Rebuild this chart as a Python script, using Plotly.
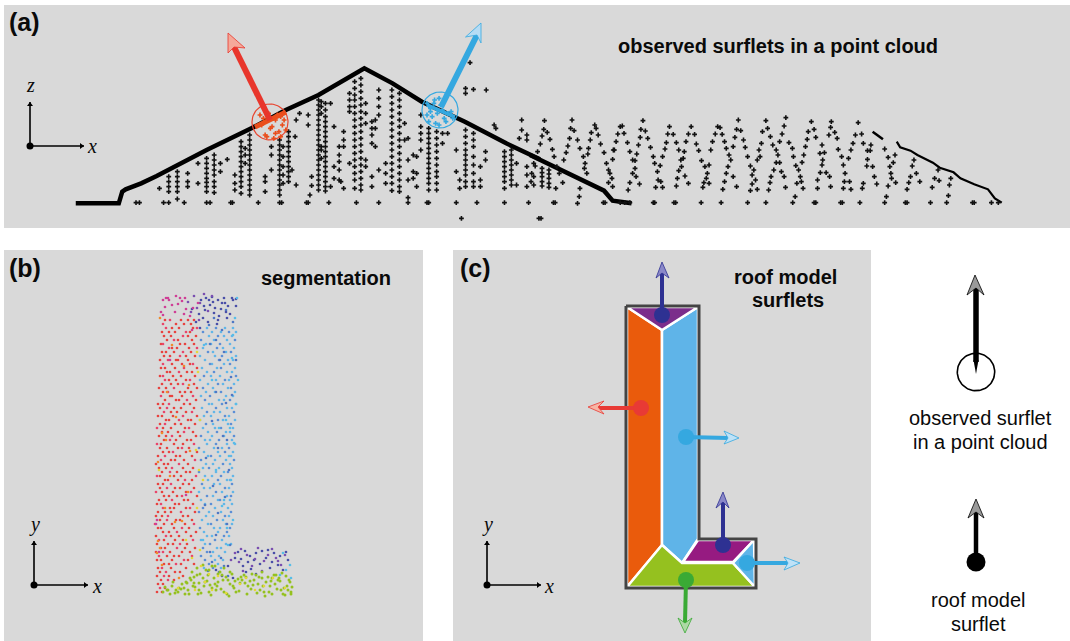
import numpy as np
import plotly.graph_objects as go

ROOF_LEFT_X = [220,345,355,365,410,455,600,730,830,925,1058,1140,1225,1350,1470,1568]
ROOF_LEFT_Y = [610,610,575,568,550,528,450,385,330,285,205,250,305,365,430,478]
ROOF_MID_X = [0,60,215,240,295]
ROOF_MID_Y = [465,495,572,602,610]
ROOF_R1_X = [995,1010,1025]
ROOF_R1_Y = [395,407,418]
ROOF_R2_X = [1065,1075,1105,1125,1170,1190,1230,1250,1290,1330,1350,1370]
ROOF_R2_Y = [425,442,452,465,488,503,517,535,553,568,595,608]

COLS_LEFT = [
(463,[565]),(490,[530,545,560,575]),(515,[515,530,545,560,575,597]),(545,[520,545,560]),(575,[490,550]),
(600,[475,490,505,520,535,547,560,575]),(622,[465,480,495,510,525,545,560,578]),(640,[490,515]),(660,[478]),
(682,[525,550,570]),(700,[425,440,455,470,485,500,515,530,545,560,580]),(712,[445,465,490]),
(725,[405,420,435,450,465,480,495,510,525,540,555,570,585]),(770,[530,545,575]),(788,[440,465,510]),
(812,[420,435,450,465,480,495,510,525,540,555,570,585]),(822,[440,470,500,525,550]),
(838,[395,410,425,440,455,470,485,500,515,530,545]),(848,[510]),(860,[360,555]),(857,[410]),(870,[340]),
(895,[375,345]),(900,[585]),(905,[530,557]),
(925,[300,315,330,345,360,375,390,405,420,435,450,465,480,495,510,525,540,555,570]),(933,[305,320,340,440,450,475]),
(945,[310,330,350,365,380,395,410,425,440,455,470,485,500,515,530,545,560,573]),(960,[310,560]),
(970,[380,500,535]),(985,[440,465,485,510,540]),(998,[395,420,440,565]),(990,[545]),
(1015,[280,300,320,335,490]),(1030,[245,265,285,300,320,340,360,380,400,420,440,460,480,500,520,540,565]),
(1048,[235,255,275,295,315,335,355,375,395,415,435,455,475,495,515,535,555,570]),(1062,[310,340,370,480,500]),
(1080,[365,385,405,430,530,560]),(1090,[360,385,440]),(1100,[270,295,320,345,510]),(1120,[490,520,550]),
(1138,[270,290,310,330,350,370,390,410,430,450,470,490,510,530,550,572]),
(1160,[280,300,320,340,360,380,400,420,440,460,480,500,520,540,560,575]),(1175,[370,420]),(1185,[415,480,540,593]),
(1200,[465,515,535]),(1210,[470,520,560]),(1222,[345,380,400,420,450]),
(1245,[385,400,415,430,445,460,475,490,505,520,535,550,570]),(1268,[395,415,435,455,475,495,515,530,550,570]),
(1285,[400,430]),(1300,[400]),(1325,[450,515]),(1335,[540,565]),(1340,[655]),
(1352,[390,410,430,450,465,480,495,510,525,545,560,265,280]),(1375,[400,420,440,470,495,520,545,560,268]),
(1365,[188]),(1412,[270]),(1395,[500,540,560]),(1410,[455,480]),(1435,[375]),(1440,[385]),
(1465,[455,470,485,500,515,530,545,565]),(1485,[450,465,480,495,510,525,540,555]),(1500,[490,555]),(1508,[415]),
(1515,[360,390]),(1530,[405,420,500,525,560]),(1550,[490,530,555]),(1565,[655]),
]
FLOOR_LEFT = [395,405,475,490,535,600,610,670,675,750,812,818,890,895,955,1035,1100,1185,1240,1245,1325,1385,1465,1535]
FLOOR_RIGHT = [68,73,213,218,262,275,290,358,362,418,423,497,555,632,685,763,825,830,902,907,958,1030,1090,1095,1163,1210,1285,1290,1340,1360]

RIGHT_X = [42,40,50,35,30,58,65,22,70,15,5,3,35,35,35,35,35,55,55,55,55,55,78,85,95,75,98,
122,118,128,115,138,110,105,145,155,168,160,158,165,
188,192,198,178,175,205,170,215,242,240,222,228,232,238,228,240,145,143,138,
262,268,255,273,250,283,245,290,298,305,305,298,290,285,318,308,
328,322,335,320,342,315,350,310,358,362,378,370,372,380,365,385,385,392,396,400,416,405,
425,432,445,438,440,432,450,428,460,425,
468,460,478,453,483,448,490,498,520,508,515,512,505,520,502,
545,552,538,558,530,565,525,570,578,583,575,570,590,565,560,600,
605,600,612,595,620,590,625,632,640,650,645,655,645,640,660,
685,690,675,698,672,705,665,715,668,660,720,715,725,708,730,700,738,697,742,693,
743,738,732,752,725,762,765,772,790,795,780,785,775,788,793,770,
817,825,808,830,805,800,848,842,855,850,848,843,860,835,870,835,873,
875,873,885,868,892,895,905,910,915,913,928,910,932,
953,945,963,938,968,932,990,925,980,988,980,978,995,968,965,1000,1007,
1030,1040,1060,1055,1045,1048,1050,1062,1040,1035,
1115,1110,1122,1105,1100,1095,1132,
1185,1175,1188,1168,1222,1218,1215,32]
RIGHT_Y = [362,388,397,408,432,418,448,455,470,498,520,545,505,518,530,545,558,510,522,535,550,562,500,520,548,565,480,
360,385,392,415,420,438,458,445,470,462,490,505,520,
375,385,405,398,420,432,445,458,450,478,490,510,520,535,548,560,565,590,610,
380,378,402,400,425,428,450,455,480,482,505,520,548,570,552,530,
362,388,393,412,415,435,442,462,470,490,497,515,540,545,562,562,470,447,428,402,403,380,
428,450,475,480,500,512,528,535,550,558,
380,402,403,425,432,455,452,482,495,500,520,535,548,550,562,
380,383,402,403,425,425,450,445,465,480,500,520,530,545,568,560,
360,388,392,412,420,440,442,470,498,510,525,540,552,572,568,
362,385,395,410,430,435,450,450,470,480,465,488,488,510,515,530,530,548,562,570,
353,378,402,428,425,445,470,497,487,465,510,530,550,545,565,590,
365,388,395,412,418,440,435,460,458,480,495,518,518,540,530,565,560,
365,382,397,405,415,448,470,495,520,545,545,565,568,
368,405,402,430,430,450,435,475,452,452,478,498,500,550,565,530,552,
447,472,465,488,500,520,535,548,558,590,
480,498,520,530,548,568,545,
510,535,542,562,535,555,587,655]

RED_IN_X = [755,765,780,790,800,810,820,825,770,785,800,815,760,775,805,795,830,815]
RED_IN_Y = [345,355,340,380,400,395,375,360,405,385,360,410,375,410,345,415,390,350]
BLUE_IN_X = [1240,1250,1262,1275,1240,1255,1270,1285,1300,1245,1265,1290,1310,1250,1280,1295,1315,1260,1275]
BLUE_IN_Y = [310,325,300,295,345,350,340,330,340,365,370,355,335,335,315,365,355,310,375]

# ---------- panel (b): segmentation, pixel rows of the picture ----------
RED_ROWS = {
320:[165,170,181,188,194],324:[163,176,184,191],328:[166,172,179,193,197],332:[162,169,175,186,190],
336:[164,171,183,188,196],340:[167,174,178,192],344:[161,163,180,185,194],348:[169,172,177,189,197],
352:[162,166,174,183,191],356:[164,170,180,186,195],360:[160,168,176,178,188],364:[163,172,182,190,193],
368:[161,165,175,184,197],372:[167,170,179,187,192],376:[160,163,173,181,195],380:[165,169,176,186,190],
384:[162,171,178,183,194],388:[159,166,174,188,197],392:[163,168,180,185,191],396:[161,170,172,182,193],
400:[165,176,179,187,196],404:[158,163,169,184,190],408:[160,167,174,181,194],412:[164,171,177,186,192],
416:[158,162,173,183,197],420:[166,169,179,188,191],424:[160,165,175,181,195],428:[157,163,171,185,189],
432:[162,168,178,184,193],436:[159,166,172,180,196],440:[164,170,176,187,191],444:[157,161,174,183,194],
448:[160,167,178,182,189],452:[163,169,173,186,197],456:[158,165,176,180,192],460:[161,171,175,184,195],
464:[156,164,168,179,188],468:[159,166,172,183,193],472:[162,170,177,186,190],476:[157,160,174,181,196],
480:[165,168,178,185,192],484:[158,163,171,183,189],488:[160,167,175,180,194],492:[156,162,173,186,191],
496:[164,169,177,182,197],500:[159,166,172,184,188],504:[157,161,175,179,193],508:[163,170,174,186,190],
512:[158,165,171,181,195],516:[156,162,168,183,188],520:[160,167,176,180,192],524:[155,164,172,185,194],
528:[158,161,174,182,189],532:[163,169,177,186,196],536:[156,166,171,179,191],540:[159,164,175,183,193],
544:[157,168,173,180,187],548:[161,165,177,185,195],552:[156,163,170,182,190],556:[159,167,174,179,192],
560:[157,161,172,184,188],564:[164,169,176,181,194],568:[158,162,171,186],572:[160,166,175,180],
576:[157,164,169,183],580:[161,168,174],584:[158,163],588:[160,165],592:[157,162],
}
BLUE_ROWS = {
328:[207,216,225,233],332:[203,212,221,229,236],336:[209,218,224,232],340:[201,214,227,235],344:[206,211,220,230],
348:[203,217,223,234],352:[208,213,226,231],356:[200,215,222,236],360:[205,219,228,233],364:[210,212,224,230],
368:[202,217,221,235],372:[207,214,227,232],376:[204,211,220,236],380:[200,216,225,229],384:[208,218,223,234],
388:[203,213,228,231],392:[206,215,221,235],396:[201,210,226,233],400:[205,219,224,230],404:[209,212,222,236],
408:[202,216,227,232],412:[207,214,220,234],416:[204,211,225,229],420:[200,218,223,235],424:[206,213,228,231],
428:[203,215,221,233],432:[208,217,226,230],436:[201,212,224,234],440:[205,210,219,232],444:[207,216,227,235],
448:[199,214,222,229],452:[204,218,225,233],456:[208,211,220,231],460:[201,215,226,234],464:[206,213,223,230],
468:[203,209,219,232],472:[199,216,224,228],476:[205,212,221,233],480:[208,218,227,230],484:[202,214,220,232],
488:[204,210,225,229],492:[199,216,222,233],496:[207,213,227,231],500:[201,218,220,230],504:[205,211,224,232],
508:[203,215,228],512:[199,209,221,231],516:[206,213,225,229],520:[202,217,223],524:[208,211,226,232],
528:[200,214,220,230],532:[204,218,227],536:[207,212,224,229],540:[201,215,222],544:[205,210,226,231],
548:[203,217,221],552:[207,213,225],556:[201,211,219],560:[205,215,223],564:[209,218],568:[204,213,221],
}
ORANGE_X = [160,172,184,167,176,162,190,158,170,188,165,182,158,160,157,175,166,189,162,179]
ORANGE_Y = [318,345,366,392,417,433,451,462,476,492,508,521,541,548,553,522,440,385,565,578]
PINK_X = [163,165,168,172,175,182,186,190,198,163,166,176,185,157,156,159,192,170,186,169,178,184,193,161,180]
PINK_Y = [300,307,298,305,312,301,309,316,303,315,298,296,298,520,524,552,330,360,495,300,304,314,308,312,298]
YELLOW_B_X = [197,198,200,196,199,203,159,186,192,197,200,201,209,205,218,240,255,273,285,226,195,178,212,246,264]
YELLOW_B_Y = [352,372,420,450,470,480,470,540,558,508,550,566,574,582,576,584,590,578,588,593,590,588,590,578,586]
STEEL_X = [210,220,231,216,226,212,223,206,218,229,213,225,218,227,216,230,210,221,208,224,219,212,228,
222,214,226,233,209,216,224,236,232,227,205]
STEEL_Y = [344,360,377,392,403,421,436,458,448,470,486,497,513,524,535,545,552,558,571,566,572,562,576,
330,318,310,322,325,340,352,360,395,440,505]
NAVY_X = [201,206,212,218,224,204,210,215,222,228,233,214,219,226,203,208,217,236,230,200,196,192,
216,222,228,233,238,245,250,256,262,268,274,280,286,241,248,254,260,266,272,278,288,
235,243,251,246,256,270,283,199,209,221,232,205,213,227,218,236,225]
NAVY_Y = [300,298,297,300,298,306,305,308,303,306,300,313,316,312,318,322,324,306,314,328,322,309,
570,576,566,578,552,551,556,553,551,550,553,556,552,559,562,560,564,558,562,565,560,
558,566,569,572,574,568,570,314,300,309,298,310,302,318,320,299,303]
PURPLE_X = [194,197,200,204,208,212,239,247,258,264,276,252,268,281,243,262,231,235,188,191,199,241,255,272,278,285]
PURPLE_Y = [296,308,303,294,311,296,562,555,548,561,558,566,555,565,571,571,560,553,302,312,320,549,559,549,561,555]
SKY_X = [237,235,233,232,238,236,230,229,231,222,227,234,204,212,226,216,224,233,228,219,203,290,286,280,291,283]
SKY_Y = [298,318,335,358,380,404,428,456,480,506,528,443,345,380,420,470,500,520,545,428,540,565,570,575,578,553]
GREEN_X = [167,172,178,184,189,194,199,204,209,215,221,227,233,239,245,251,257,263,269,275,281,287,291,
170,176,182,188,193,198,205,212,218,224,230,236,242,248,254,260,266,272,278,284,290,
163,173,179,185,191,197,203,208,214,220,226,232,238,244,250,256,262,268,274,280,286,
192,197,203,209,215,190,200,206,212,218,224,230,252,262,272,282,288,
165,175,181,187,195,201,207,211,217,223,229,235,241,247,253,259,265,271,277,283,289,
168,186,194,199,210,216,222,228,234,240,246,258,264,270,276,292,291,285,279]
GREEN_Y = [590,586,592,588,594,583,590,586,592,584,589,594,586,591,583,589,593,586,592,584,590,586,592,
594,590,584,590,586,594,582,588,582,592,584,592,580,586,580,590,582,594,580,588,582,
592,582,588,594,580,575,578,575,578,572,577,574,579,575,581,575,578,577,575,581,576,
572,568,565,570,566,578,574,570,566,574,568,572,574,572,578,573,590,
587,593,589,583,587,593,581,595,586,580,596,581,577,594,585,577,596,581,589,594,580,
590,582,577,583,585,590,575,580,588,583,577,584,592,586,575,587,594,595,578]

# ---------- panel (c): roof model polygons, pixel positions ----------
ORANGE_POLY = ([627,662,662,627],[307,330,545,587])
BLUE_POLY = ([662,698,698,682,662],[330,307,539,563,545])
PURPLE_TOP = ([627,698,662],[307,307,330])
GREEN_POLY = ([662,682,733,755,627],[545,563,563,587,587])
PURPLE_FOOT = ([698,754,733,683],[540,540,562,562])
BLUE_SMALL = ([754,755,733],[540,587,563])
OUTLINE = ([626,699,699,756,756,626,626],[306,306,539,539,588,588,306])

# ---------- arrows: tail, shaft end, head polygon (tip, barb, notch, barb) ----------
ARROWS = [
 dict(shaft=([270,234],[120,47]),head=([228,228,234,245],[33,53,47,48]),c="#e8362c",f="#f5a899",w=6),
 dict(shaft=([441,477],[107,35]),head=([481,465.5,477,481],[23,37,35,43]),c="#35a8e0",f="#b5dcf5",w=6),
 dict(shaft=([662,662],[315,273]),head=([662,656,662,669],[262,278,273,278]),c="#2e3192",f="#8a88c8",w=4,dot=(8,)),
 dict(shaft=([641,598],[408,408]),head=([588,604,598,604],[407,401,407,414]),c="#e83a35",f="#f7b5a5",w=4,dot=(8,)),
 dict(shaft=([686,728],[437,438]),head=([739,724,728,724],[438,431,438,444]),c="#35a8e0",f="#bfe2f7",w=4,dot=(8,)),
 dict(shaft=([723,723],[545,502]),head=([723,716,723,729],[492,508,502,508]),c="#2e3192",f="#8a88c8",w=4,dot=(8,)),
 dict(shaft=([747,788],[563,563]),head=([800,784,788,784],[563,557,563,570]),c="#35a8e0",f="#bfe2f7",w=4,dot=(8,)),
 dict(shaft=([686,685],[580,623]),head=([685,678,685,692],[633,618,623,618]),c="#3aaa35",f="#add9a5",w=4,dot=(8,)),
 dict(shaft=([976,976],[362,288]),head=([975,967,976,984],[275,295,288,295]),c="#000000",f="#9a9a9a",w=5.5),
 dict(shaft=([976,976],[562,512]),head=([976,968,976,984],[499,518,512,518]),c="#000000",f="#9a9a9a",w=4.5,dot=(9.5,)),
]
TAPER = ([973.5,978.5,976],[360,360,374])
AXES = [((30,146),(30,102),(84,146)),((34,585),(34,541),(88,585)),((487,585),(487,541),(541,585))]

PANELS = [(4,1070,5,228),(4,423,250,641),(453,871,250,641)]

fig = go.Figure()
SANS = "Liberation Sans"
SERIF = "Liberation Serif"

def poly(xs, ys, fill, lc=None, lw=0):
    fig.add_trace(go.Scatter(x=list(xs)+[xs[0]], y=list(ys)+[ys[0]], mode="lines", fill="toself",
                             fillcolor=fill, line=dict(color=lc or fill, width=lw), hoverinfo="skip"))

def line(xs, ys, color, w):
    fig.add_trace(go.Scatter(x=xs, y=ys, mode="lines", line=dict(color=color, width=w), hoverinfo="skip"))

def pts(xs, ys, color, size, symbol="circle", opacity=1):
    fig.add_trace(go.Scatter(x=xs, y=ys, mode="markers", hoverinfo="skip",
                             marker=dict(color=color, size=size, symbol=symbol, opacity=opacity, line=dict(width=0))))

def circle(cx, cy, r, color, w):
    t = np.linspace(0, 2*np.pi, 73)
    line(list(cx + r*np.cos(t)), list(cy + r*np.sin(t)), color, w)

L = lambda v: list(np.array(v, float)/2.904)
R = lambda v: list(530 + np.array(v, float)/2.904)
Y3 = lambda v: list(np.array(v, float)/3)

# panel a
line(L(ROOF_LEFT_X), Y3(ROOF_LEFT_Y), "#000000", 4.5)
line(R(ROOF_MID_X), Y3(ROOF_MID_Y), "#000000", 4.5)
line(R(ROOF_R1_X), Y3(ROOF_R1_Y), "#000000", 2.5)
line(R(ROOF_R2_X), Y3(ROOF_R2_Y), "#000000", 2.2)
cx, cy = [], []
for x, ys in COLS_LEFT:
    for y in ys:
        cx.append(x); cy.append(y)
pts(L(cx), Y3(cy), "#111111", 4, "cross")
pts(R(RIGHT_X), Y3(RIGHT_Y), "#111111", 4, "cross")
pts(L(FLOOR_LEFT), Y3([608]*len(FLOOR_LEFT)), "#111111", 4, "cross")
pts(R(FLOOR_RIGHT), Y3([608]*len(FLOOR_RIGHT)), "#111111", 4, "cross")
# surflet markers
circle(270, 122, 18, "#e8442f", 1.2)
circle(440, 110, 18, "#35a8e0", 1.2)
pts(L(RED_IN_X), Y3(RED_IN_Y), "#ea4e1c", 4, "cross")
pts(L(BLUE_IN_X), Y3(BLUE_IN_Y), "#35a8e0", 4, "cross")
line([255,286],[127,112], "#ea4e1c", 5)
line([427,455],[105,117], "#35a8e0", 4)

# panel b
def rows(d):
    xs, ys = [], []
    for y, row in d.items():
        for x in row:
            xs.append(x); ys.append(y)
    return np.array(xs), np.array(ys)
b_sz = 2.7
rx, ry = rows(RED_ROWS)
idx = np.arange(len(rx))
m = idx % 4 == 1
pts(list(rx[~m]), list(ry[~m]), "#e8433f", b_sz)
pts(list(rx[m]), list(ry[m]), "#e9456a", b_sz)
bx, by = rows(BLUE_ROWS)
idx = np.arange(len(bx))
m = idx % 3 == 1
pts(list(bx[~m]), list(by[~m]), "#62b6e8", b_sz)
pts(list(bx[m]), list(by[m]), "#5c8fd6", b_sz)
pts(STEEL_X, STEEL_Y, "#4f78c4", b_sz)
pts(NAVY_X, NAVY_Y, "#4a4fa8", b_sz)
pts(PURPLE_X, PURPLE_Y, "#7a4fb0", b_sz)
pts(SKY_X, SKY_Y, "#58bde8", b_sz)
pts(PINK_X, PINK_Y, "#cf3f96", b_sz)
pts(ORANGE_X, ORANGE_Y, "#ef8a2d", b_sz)
pts(GREEN_X, GREEN_Y, "#95c11f", b_sz+.3)
pts(YELLOW_B_X, YELLOW_B_Y, "#e3d83a", b_sz)

# panel c
for p, col in [(ORANGE_POLY,"#ea5b0c"),(BLUE_POLY,"#5fb4e8"),(PURPLE_TOP,"#7b2d8b"),
               (GREEN_POLY,"#95c11f"),(PURPLE_FOOT,"#961b81"),(BLUE_SMALL,"#5fb4e8")]:
    poly(p[0], p[1], col, "#ffffff", 2.5)
line(OUTLINE[0], OUTLINE[1], "#444444", 3)

# arrows
for a in ARROWS:
    line(a["shaft"][0], a["shaft"][1], a["c"], a["w"])
    poly(a["head"][0], a["head"][1], a["f"], a["c"], 0.8)
    if "dot" in a:
        pts([a["shaft"][0][0]], [a["shaft"][1][0]], a["c"], a["dot"][0]*2)
circle(976, 372, 18.7, "#000000", 1.6)
poly(TAPER[0], TAPER[1], "#000000")

# xyz axis glyphs
for (o, up, rt) in AXES:
    line([o[0],up[0]],[o[1],up[1]], "#000000", 1.6)
    line([o[0],rt[0]],[o[1],rt[1]], "#000000", 1.6)
    pts([o[0]],[o[1]], "#000000", 7)
    poly([up[0]-3,up[0],up[0]+3],[up[1]+4,up[1],up[1]+4], "#000000")
    poly([rt[0]-4,rt[0],rt[0]-4],[rt[1]-3,rt[1],rt[1]+3], "#000000")

def txt(x, y, s, size, anchor="left", family=SANS, color="#0a0a0a"):
    fig.add_annotation(x=x, y=y, text=s, showarrow=False, xanchor=anchor, yanchor="middle",
                       font=dict(family=family, size=size, color=color))

for x, y, s in [(7,22,"<b>(a)</b>"),(7,268,"<b>(b)</b>"),(458,268,"<b>(c)</b>")]:
    txt(x, y, s, 25)
txt(778, 46, "<b>observed surflets in a point cloud</b>", 20, "center")
txt(326, 278, "<b>segmentation</b>", 20, "center")
txt(785, 277, "<b>roof model</b>", 20, "center")
txt(788, 300, "<b>surflets</b>", 20, "center")
txt(980, 418, "observed surflet", 20, "center")
txt(980, 442, "in a point cloud", 20, "center")
txt(978, 600, "roof model", 20, "center")
txt(978, 624, "surflet", 20, "center")
for x, y, s in [(30,85,"z"),(92,146,"x"),(34,524,"y"),(97,586,"x"),(487,524,"y"),(549,586,"x")]:
    txt(x, y, "<i>"+s+"</i>", 20, "center", SERIF)

fig.update_layout(
    width=1070, height=641, margin=dict(l=0,r=0,t=0,b=0), showlegend=False,
    paper_bgcolor="#ffffff", plot_bgcolor="#ffffff",
    xaxis=dict(range=[0,1070], visible=False, fixedrange=True),
    yaxis=dict(range=[641,0], visible=False, fixedrange=True),
    shapes=[dict(type="rect", x0=p[0], x1=p[1], y0=p[2], y1=p[3], fillcolor="#d9d9d9",
                 line=dict(width=0), layer="below") for p in PANELS],
)
fig.write_html("out.html", config=dict(displayModeBar=False),
               post_script="document.body.style.margin='0';document.body.style.overflow='hidden';")
